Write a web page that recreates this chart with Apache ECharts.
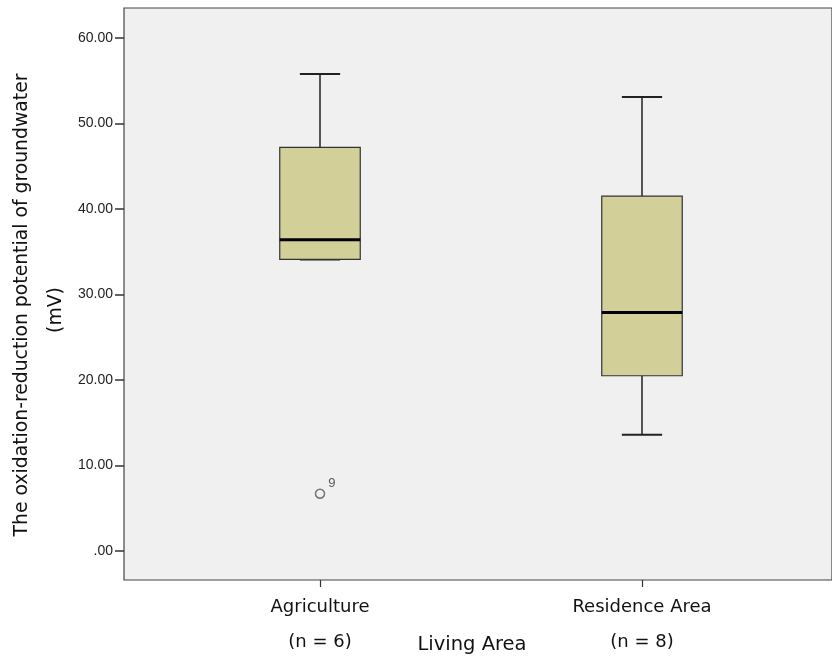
<!DOCTYPE html>
<html>
<head>
<meta charset="utf-8">
<script src="https://cdn.jsdelivr.net/npm/echarts@6/dist/echarts.min.js"></script>
<style>
html,body{margin:0;padding:0;background:#fff;}
#c{width:832px;height:660px;}
</style>
</head>
<body>
<div id="c"></div>
<script>
// ---- data ----
const categories = ['Agriculture', 'Residence Area'];
const counts = [6, 8];
const whiskerLow = [34.1, 13.6];
const q1 = [34.1, 20.5];
const medians = [36.4, 27.9];
const q3 = [47.2, 41.5];
const whiskerHigh = [55.8, 53.1];
const outliers = [[0, 6.7, '9']];
const yTicks = [0, 10, 20, 30, 40, 50, 60];

const boxData = categories.map((c, i) => [i, whiskerLow[i], q1[i], medians[i], q3[i], whiskerHigh[i]]);

const chart = echarts.init(document.getElementById('c'), null, {renderer: 'canvas'});
const labelFont = 'DejaVu Sans';

chart.setOption({
  animation: false,
  backgroundColor: '#ffffff',
  grid: [
    {left: 159, top: 38, width: 644, height: 513},
    {left: 124, top: 8, width: 720, height: 572, show: true, backgroundColor: '#f0f0f0',
     borderColor: '#454545', borderWidth: 1.2, z: 0}
  ],
  xAxis: [
    {
      type: 'category', gridIndex: 0, data: categories, offset: 29,
      axisLine: {show: false, onZero: false},
      axisTick: {show: true, alignWithLabel: true, length: 7, lineStyle: {color: '#333', width: 1.2}},
      axisLabel: {
        margin: 10, interval: 0,
        formatter: function (v, i) { return '{a|' + v + '}\n{a|(n = ' + counts[i] + ')}'; },
        rich: {a: {fontFamily: labelFont, fontSize: 18, color: '#111', lineHeight: 35}}
      },
      splitLine: {show: false}
    },
    {type: 'value', gridIndex: 1, show: false}
  ],
  yAxis: [
    {
      type: 'value', gridIndex: 0, min: 0, max: 60, interval: 10, offset: 35,
      axisLine: {show: false},
      axisTick: {show: true, length: 9, lineStyle: {color: '#333', width: 1.5}},
      axisLabel: {
        margin: 11, color: '#222', fontSize: 14, fontFamily: 'Liberation Sans',
        formatter: function (v) { return yTicks.indexOf(v) >= 0 ? (v === 0 ? '.00' : v.toFixed(2)) : ''; }
      },
      splitLine: {show: false}
    },
    {type: 'value', gridIndex: 1, show: false}
  ],
  series: [
    {
      type: 'custom', xAxisIndex: 0, yAxisIndex: 0, z: 5,
      data: boxData,
      renderItem: function (params, api) {
        const x = api.value(0);
        const lo = api.coord([x, api.value(1)]);
        const b1 = api.coord([x, api.value(2)]);
        const md = api.coord([x, api.value(3)]);
        const b3 = api.coord([x, api.value(4)]);
        const hi = api.coord([x, api.value(5)]);
        const band = api.size([1, 0])[0];
        const hw = band * 0.125;
        const cw = band * 0.0625;
        const cx = md[0];
        const ws = {stroke: '#222', lineWidth: 1.5};
        return {
          type: 'group',
          children: [
            {type: 'line', shape: {x1: cx, y1: hi[1], x2: cx, y2: b3[1]}, style: ws},
            {type: 'line', shape: {x1: cx, y1: b1[1], x2: cx, y2: lo[1]}, style: ws},
            {type: 'line', shape: {x1: cx - cw, y1: hi[1], x2: cx + cw, y2: hi[1]}, style: {stroke: '#222', lineWidth: 2}},
            {type: 'line', shape: {x1: cx - cw, y1: lo[1], x2: cx + cw, y2: lo[1]}, style: {stroke: '#222', lineWidth: 2}},
            {type: 'rect', shape: {x: cx - hw, y: b3[1], width: hw * 2, height: b1[1] - b3[1]},
             style: {fill: '#d3cf98', stroke: '#333', lineWidth: 1.2}},
            {type: 'line', shape: {x1: cx - hw, y1: md[1], x2: cx + hw, y2: md[1]}, style: {stroke: '#000', lineWidth: 3}}
          ]
        };
      }
    },
    {
      type: 'scatter', xAxisIndex: 0, yAxisIndex: 0, z: 6,
      data: outliers.map(o => [o[0], o[1], o[2]]),
      symbol: 'circle', symbolSize: 9,
      itemStyle: {color: '#f0f0f0', borderColor: '#555', borderWidth: 1.5},
      label: {
        show: true, position: 'right', distance: 4, offset: [-1, -10],
        formatter: function (p) { return p.value[2]; },
        fontSize: 13, fontFamily: 'Liberation Sans', color: '#333'
      }
    }
  ],
  graphic: [
    {type: 'text', x: 22, y: 305, rotation: Math.PI / 2,
     style: {text: 'The oxidation-reduction potential of groundwater', fontFamily: labelFont, fontSize: 18.8, fill: '#111',
             align: 'center', verticalAlign: 'middle', textAlign: 'center', textVerticalAlign: 'middle'}},
    {type: 'text', x: 56, y: 310, rotation: Math.PI / 2,
     style: {text: '(mV)', fontFamily: labelFont, fontSize: 18.8, fill: '#111',
             align: 'center', verticalAlign: 'middle', textAlign: 'center', textVerticalAlign: 'middle'}},
    {type: 'text', x: 472, y: 645,
     style: {text: 'Living Area', fontFamily: labelFont, fontSize: 19.5, fill: '#111',
             align: 'center', verticalAlign: 'middle', textAlign: 'center', textVerticalAlign: 'middle'}}
  ]
});
</script>
</body>
</html>
